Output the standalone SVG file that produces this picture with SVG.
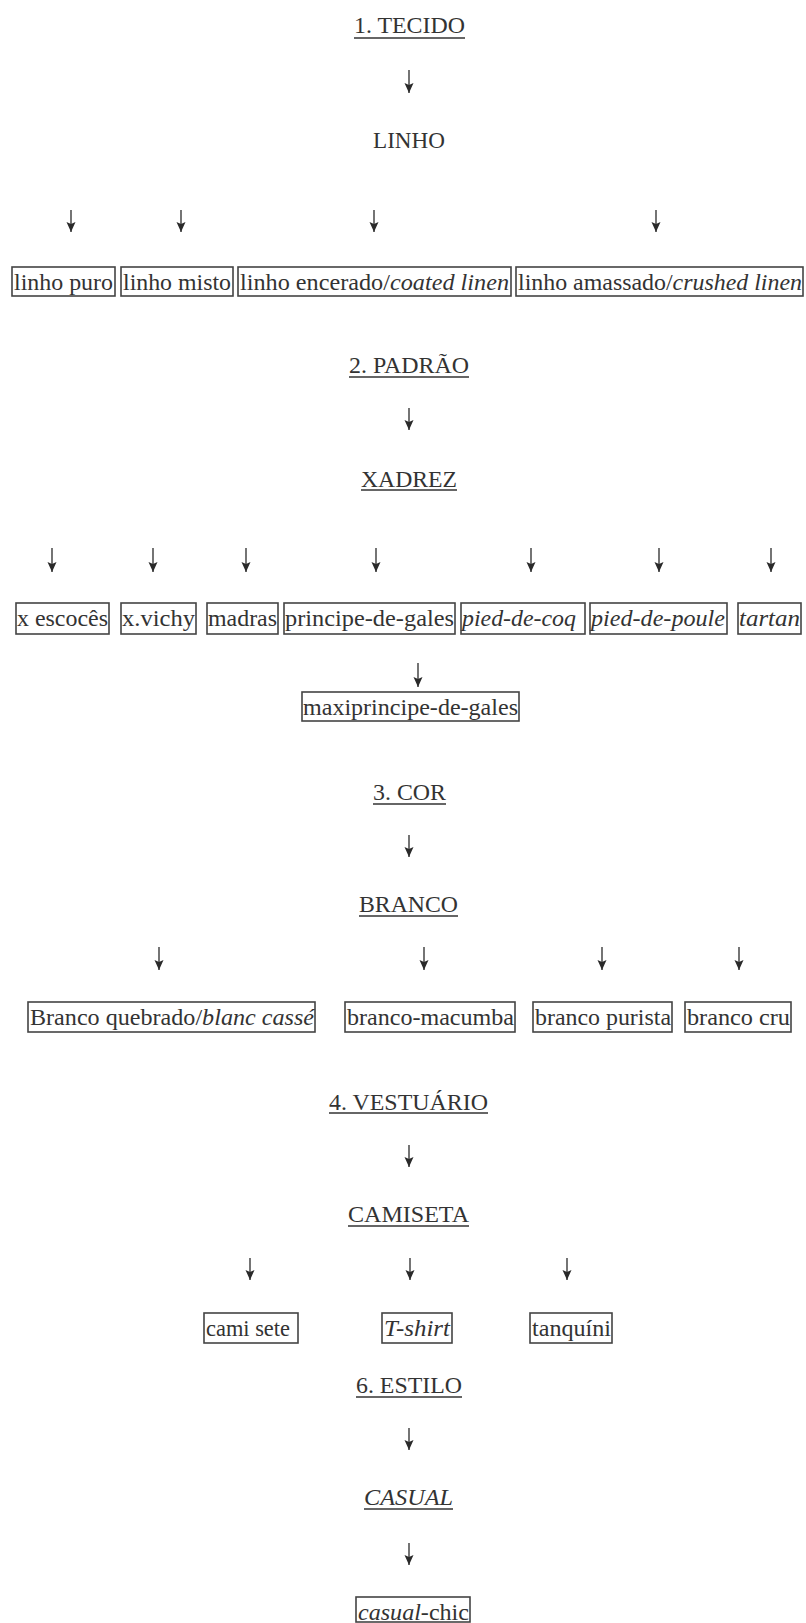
<svg xmlns="http://www.w3.org/2000/svg" width="806" height="1623" viewBox="0 0 806 1623">
<style>
text{font-family:"Liberation Serif","Times New Roman",serif;font-size:23px;fill:#333}
.h{text-anchor:middle}
.i{font-style:italic}
.b{fill:#fff;stroke:#444;stroke-width:1.6}
.u{stroke:#333;stroke-width:1.4}
.c{stroke:#2a2a2a;stroke-width:1.3;fill:none}
</style>
<defs>
<marker id="ah" markerUnits="userSpaceOnUse" markerWidth="11" markerHeight="10" refX="10" refY="4.5" orient="auto">
<path d="M0,0 L10,4.5 L0,9 L2,4.5 z" fill="#2a2a2a"/>
</marker>
</defs>
<rect width="806" height="1623" fill="#fff"/>

<g id="connectors">
<path class="c" marker-end="url(#ah)" d="M409,70 V93"/>
<path class="c" marker-end="url(#ah)" d="M71,210 V232"/>
<path class="c" marker-end="url(#ah)" d="M181,210 V232"/>
<path class="c" marker-end="url(#ah)" d="M374,210 V232"/>
<path class="c" marker-end="url(#ah)" d="M656,210 V232"/>
<path class="c" marker-end="url(#ah)" d="M409,408 V430"/>
<path class="c" marker-end="url(#ah)" d="M52,548 V572"/>
<path class="c" marker-end="url(#ah)" d="M153,548 V572"/>
<path class="c" marker-end="url(#ah)" d="M246,548 V572"/>
<path class="c" marker-end="url(#ah)" d="M376,548 V572"/>
<path class="c" marker-end="url(#ah)" d="M531,548 V572"/>
<path class="c" marker-end="url(#ah)" d="M659,548 V572"/>
<path class="c" marker-end="url(#ah)" d="M771,548 V572"/>
<path class="c" marker-end="url(#ah)" d="M418,663 V687"/>
<path class="c" marker-end="url(#ah)" d="M409,835 V857"/>
<path class="c" marker-end="url(#ah)" d="M159,947 V970"/>
<path class="c" marker-end="url(#ah)" d="M424,947 V970"/>
<path class="c" marker-end="url(#ah)" d="M602,947 V970"/>
<path class="c" marker-end="url(#ah)" d="M739,947 V970"/>
<path class="c" marker-end="url(#ah)" d="M409,1145 V1167"/>
<path class="c" marker-end="url(#ah)" d="M250,1258 V1280"/>
<path class="c" marker-end="url(#ah)" d="M410,1258 V1280"/>
<path class="c" marker-end="url(#ah)" d="M567,1258 V1280"/>
<path class="c" marker-end="url(#ah)" d="M409,1428 V1450"/>
<path class="c" marker-end="url(#ah)" d="M409,1543 V1565"/>
</g>

<g id="h-tecido"><text class="h" x="409.5" y="33" textLength="111" lengthAdjust="spacingAndGlyphs">1. TECIDO</text><line class="u" x1="354" y1="38" x2="465" y2="38"/></g>
<g id="h-linho"><text class="h" x="409" y="148" textLength="72" lengthAdjust="spacingAndGlyphs">LINHO</text></g>

<g id="n-linho-puro"><rect class="b" x="12" y="267" width="103" height="29"/><text x="14" y="290" textLength="99" lengthAdjust="spacingAndGlyphs">linho puro</text></g>
<g id="n-linho-misto"><rect class="b" x="121" y="267" width="112" height="29"/><text x="123" y="290" textLength="108" lengthAdjust="spacingAndGlyphs">linho misto</text></g>
<g id="n-linho-encerado"><rect class="b" x="238" y="267" width="273" height="29"/><text x="240" y="290" textLength="269" lengthAdjust="spacingAndGlyphs">linho encerado/<tspan class="i">coated linen</tspan></text></g>
<g id="n-linho-amassado"><rect class="b" x="516" y="267" width="287" height="29"/><text x="518" y="290" textLength="284" lengthAdjust="spacingAndGlyphs">linho amassado/<tspan class="i">crushed linen</tspan></text></g>

<g id="h-padrao"><text class="h" x="409" y="373" textLength="120" lengthAdjust="spacingAndGlyphs">2. PADRÃO</text><line class="u" x1="349" y1="377" x2="469" y2="377"/></g>
<g id="h-xadrez"><text class="h" x="409" y="487" textLength="96" lengthAdjust="spacingAndGlyphs">XADREZ</text><line class="u" x1="361" y1="490" x2="457" y2="490"/></g>

<g id="n-escoces"><rect class="b" x="16" y="603" width="93" height="31"/><text x="17" y="626" textLength="91" lengthAdjust="spacingAndGlyphs">x escocês</text></g>
<g id="n-vichy"><rect class="b" x="121" y="603" width="75" height="31"/><text x="122" y="626" textLength="73" lengthAdjust="spacingAndGlyphs">x.vichy</text></g>
<g id="n-madras"><rect class="b" x="207" y="603" width="71" height="31"/><text x="208" y="626" textLength="69" lengthAdjust="spacingAndGlyphs">madras</text></g>
<g id="n-principe"><rect class="b" x="284" y="603" width="171" height="31"/><text x="285" y="626" textLength="169" lengthAdjust="spacingAndGlyphs">principe-de-gales</text></g>
<g id="n-pied-coq"><rect class="b" x="461" y="603" width="124" height="31"/><text class="i" x="462" y="626" textLength="114" lengthAdjust="spacingAndGlyphs">pied-de-coq</text></g>
<g id="n-pied-poule"><rect class="b" x="590" y="603" width="137" height="31"/><text class="i" x="591" y="626" textLength="134" lengthAdjust="spacingAndGlyphs">pied-de-poule</text></g>
<g id="n-tartan"><rect class="b" x="738" y="603" width="63" height="31"/><text class="i" x="739" y="626" textLength="61" lengthAdjust="spacingAndGlyphs">tartan</text></g>
<g id="n-maxiprincipe"><rect class="b" x="302" y="692" width="217" height="29"/><text x="303" y="715" textLength="215" lengthAdjust="spacingAndGlyphs">maxiprincipe-de-gales</text></g>

<g id="h-cor"><text class="h" x="409.5" y="800" textLength="73" lengthAdjust="spacingAndGlyphs">3. COR</text><line class="u" x1="373" y1="804" x2="446" y2="804"/></g>
<g id="h-branco"><text class="h" x="408.5" y="912" textLength="99" lengthAdjust="spacingAndGlyphs">BRANCO</text><line class="u" x1="359" y1="916" x2="458" y2="916"/></g>

<g id="n-quebrado"><rect class="b" x="28" y="1002" width="287" height="30"/><text x="30" y="1025" textLength="284" lengthAdjust="spacingAndGlyphs">Branco quebrado/<tspan class="i">blanc cassé</tspan></text></g>
<g id="n-macumba"><rect class="b" x="345" y="1002" width="170" height="30"/><text x="347" y="1025" textLength="167" lengthAdjust="spacingAndGlyphs">branco-macumba</text></g>
<g id="n-purista"><rect class="b" x="533" y="1002" width="139" height="30"/><text x="535" y="1025" textLength="136" lengthAdjust="spacingAndGlyphs">branco purista</text></g>
<g id="n-cru"><rect class="b" x="685" y="1002" width="106" height="30"/><text x="687" y="1025" textLength="103" lengthAdjust="spacingAndGlyphs">branco cru</text></g>

<g id="h-vestuario"><text class="h" x="408.5" y="1110" textLength="159" lengthAdjust="spacingAndGlyphs">4. VESTUÁRIO</text><line class="u" x1="329" y1="1113" x2="488" y2="1113"/></g>
<g id="h-camiseta"><text class="h" x="408.5" y="1222" textLength="121" lengthAdjust="spacingAndGlyphs">CAMISETA</text><line class="u" x1="348" y1="1226" x2="469" y2="1226"/></g>

<g id="n-camisete"><rect class="b" x="204" y="1313" width="94" height="30"/><text x="206" y="1336" textLength="84" lengthAdjust="spacingAndGlyphs">cami sete</text></g>
<g id="n-tshirt"><rect class="b" x="382" y="1313" width="70" height="30"/><text class="i" x="384" y="1336" textLength="66" lengthAdjust="spacingAndGlyphs">T-shirt</text></g>
<g id="n-tanquini"><rect class="b" x="530" y="1313" width="82" height="30"/><text x="532" y="1336" textLength="79" lengthAdjust="spacingAndGlyphs">tanquíni</text></g>

<g id="h-estilo"><text class="h" x="409" y="1393" textLength="106" lengthAdjust="spacingAndGlyphs">6. ESTILO</text><line class="u" x1="356" y1="1397" x2="462" y2="1397"/></g>
<g id="h-casual"><text class="h i" x="408.5" y="1505" textLength="89" lengthAdjust="spacingAndGlyphs">CASUAL</text><line class="u" x1="364" y1="1509" x2="453" y2="1509"/></g>

<g id="n-casual-chic"><rect class="b" x="356" y="1597" width="114" height="25"/><text x="358" y="1620" textLength="111" lengthAdjust="spacingAndGlyphs"><tspan class="i">casual</tspan>-chic</text></g>
</svg>
